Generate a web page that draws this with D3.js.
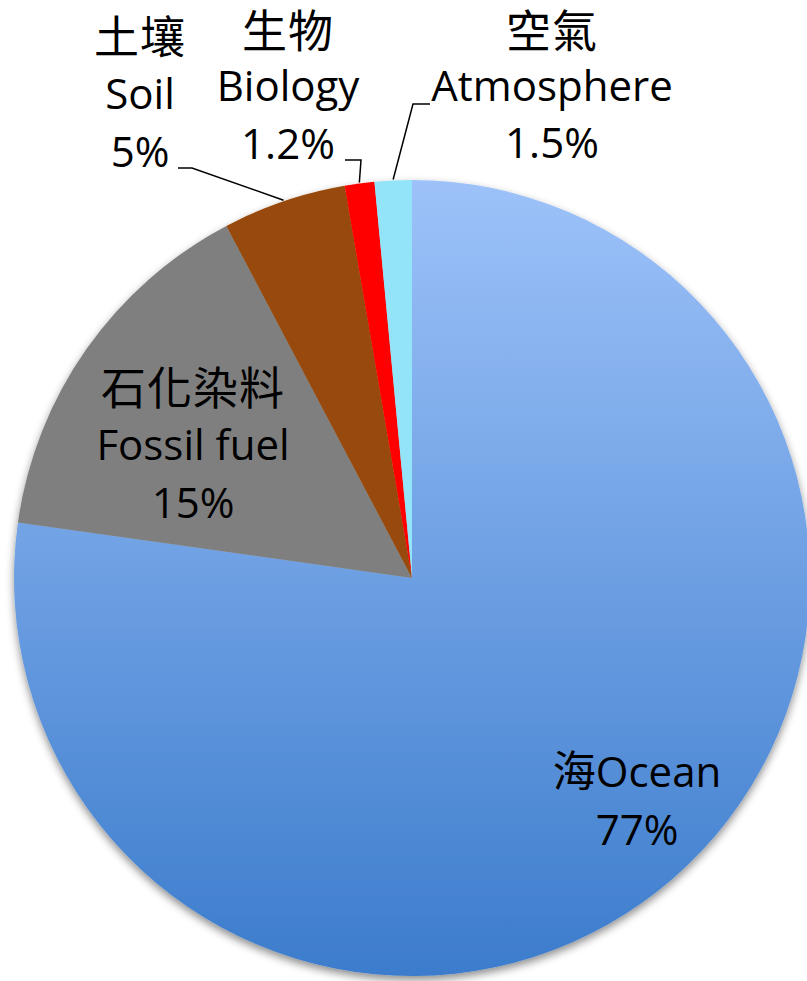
<!DOCTYPE html>
<html>
<head>
<meta charset="utf-8">
<script src="https://cdn.jsdelivr.net/npm/d3@7"></script>
<style>
  body { margin: 0; background: #fff; }
  text { font-family: "Open Sans", "Noto Sans CJK TC", sans-serif; fill: #000; }
  .cjk { font-family: "Noto Sans CJK TC", sans-serif; }
</style>
</head>
<body>
<svg id="pie_svg" width="807" height="981"></svg>
<script>
// values as labelled on the chart
const categories = ["Ocean", "Fossil fuel", "Soil", "Biology", "Atmosphere"];
const chineseNames = ["海", "石化染料", "土壤", "生物", "空氣"];
const values = [77, 15, 5, 1.2, 1.5];
const valueLabels = ["77%", "15%", "5%", "1.2%", "1.5%"];
const colors = ["url(#oceanGrad)", "#7f7f7f", "#984807", "#ff0000", "#93e4f8"];

const width = 807, height = 981;
const cx = 412, cy = 578, radius = 398;

// label anchor (centre x, baselines of the lines) and leader elbow, per slice
const labelPos = [
  { x: 637, y: [787, 845], inline: true },
  { x: 193, y: [405, 460, 518] },
  { x: 140, y: [54, 109, 167], elbow: [[178, 168], [192, 168]] },
  { x: 288, y: [48, 101, 159], elbow: [[345, 160], [361, 160]] },
  { x: 552, y: [48, 101, 158], elbow: [[430, 104], [413, 104]] },
];

const svg = d3.select("#pie_svg");
const defs = svg.append("defs");

const grad = defs.append("linearGradient")
  .attr("id", "oceanGrad")
  .attr("gradientUnits", "userSpaceOnUse")
  .attr("x1", 0).attr("y1", -radius)
  .attr("x2", 0).attr("y2", radius);
grad.append("stop").attr("offset", "0%").attr("stop-color", "#9dc2f9");
grad.append("stop").attr("offset", "100%").attr("stop-color", "#3c7ccc");

const shadow = defs.append("filter").attr("id", "shadow")
  .attr("x", "-10%").attr("y", "-10%").attr("width", "120%").attr("height", "120%");
shadow.append("feDropShadow")
  .attr("dx", 0).attr("dy", 4).attr("stdDeviation", 4)
  .attr("flood-color", "#000").attr("flood-opacity", 0.45);

const pie = d3.pie().sort(null).value(d => d);
const arcs = pie(values);
const arc = d3.arc().innerRadius(0).outerRadius(radius);

const g = svg.append("g").attr("transform", `translate(${cx}, ${cy})`);

g.append("g").attr("filter", "url(#shadow)")
  .selectAll("path")
  .data(arcs)
  .enter()
  .append("path")
  .attr("d", arc)
  .attr("fill", (d, i) => colors[i]);

// leader lines: from the elbow to the slice's outer edge at its mid angle
arcs.forEach((d, i) => {
  const p = labelPos[i];
  if (!p.elbow) return;
  const mid = (d.startAngle + d.endAngle) / 2;
  const edge = [cx + Math.sin(mid) * (radius + 1), cy - Math.cos(mid) * (radius + 1)];
  const pts = p.elbow.concat([edge]);
  svg.append("path")
    .attr("d", d3.line()(pts))
    .attr("fill", "none")
    .attr("stroke", "#000")
    .attr("stroke-width", 1.5);
});

const fontSize = 42;
const cjkSize = 45;
labelPos.forEach((p, i) => {
  const t = svg.append("g");
  if (p.inline) {
    const txt = t.append("text")
      .attr("x", p.x).attr("y", p.y[0])
      .attr("text-anchor", "middle")
      .attr("font-size", fontSize);
    txt.append("tspan").attr("class", "cjk").attr("font-size", cjkSize - 2).text(chineseNames[i]);
    txt.append("tspan").text(categories[i]);
    t.append("text")
      .attr("x", p.x).attr("y", p.y[1])
      .attr("text-anchor", "middle")
      .attr("font-size", fontSize)
      .text(valueLabels[i]);
  } else {
    t.append("text")
      .attr("class", "cjk")
      .attr("x", p.x).attr("y", p.y[0])
      .attr("text-anchor", "middle")
      .attr("font-size", cjkSize)
      .attr("letter-spacing", 1)
      .text(chineseNames[i]);
    t.append("text")
      .attr("x", p.x).attr("y", p.y[1])
      .attr("text-anchor", "middle")
      .attr("font-size", fontSize)
      .text(categories[i]);
    t.append("text")
      .attr("x", p.x).attr("y", p.y[2])
      .attr("text-anchor", "middle")
      .attr("font-size", fontSize)
      .text(valueLabels[i]);
  }
});
</script>
</body>
</html>
